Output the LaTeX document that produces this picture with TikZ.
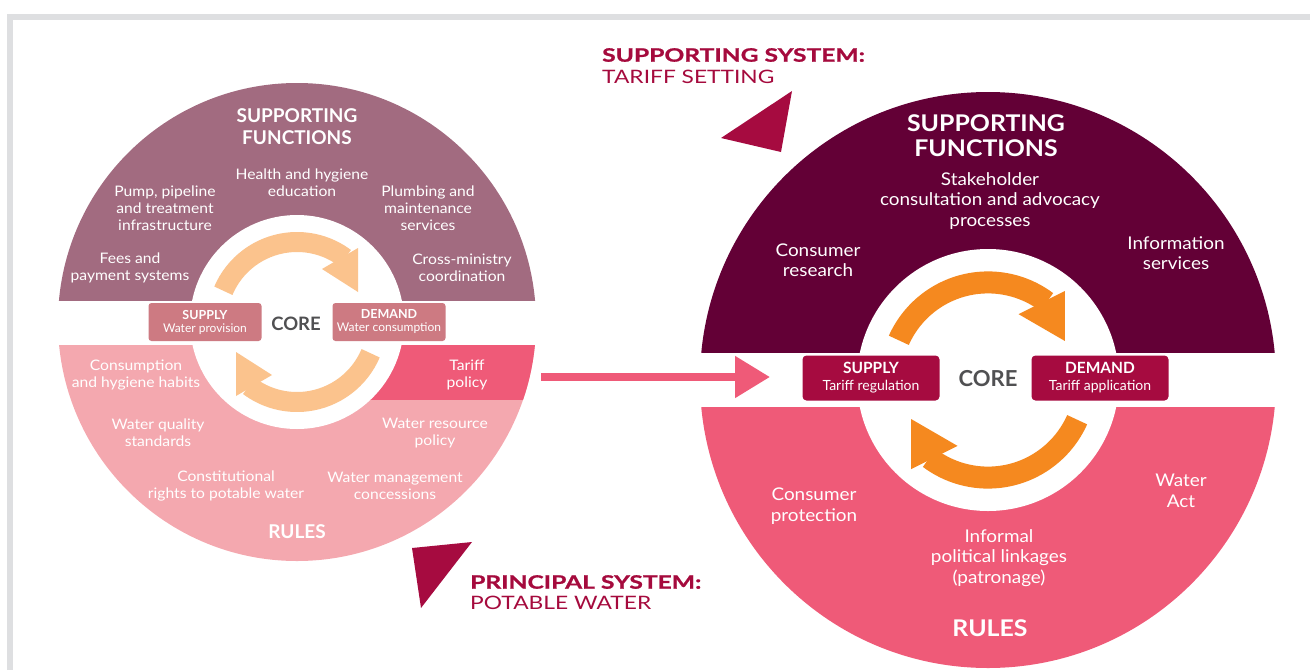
\documentclass[tikz,border=0pt]{standalone}
\usepackage{fontspec}
\setmainfont{Lato}
\newfontfamily\bodyfont{Lato}[FakeStretch=1.08]
\newfontfamily\rheadfont{Lato}[FakeStretch=1.08]
\newfontfamily\titleboldfont{Lato}[FakeStretch=1.33,BoldFeatures={FakeBold=1}]
\newfontfamily\titleregfont{Lato}[FakeStretch=1.23]
\usetikzlibrary{arrows.meta}
\definecolor{mauve}{HTML}{A26B80}
\definecolor{lightpink}{HTML}{F4A8AF}
\definecolor{rosered}{HTML}{EF5A78}
\definecolor{plum}{HTML}{630036}
\definecolor{crimson}{HTML}{A60B40}
\definecolor{boxrose}{HTML}{CD7A82}
\definecolor{peach}{HTML}{FBC38D}
\definecolor{orangeA}{HTML}{F5891F}
\definecolor{coregray}{HTML}{505052}
\definecolor{framegray}{HTML}{DEDFE1}
\definecolor{titlered}{HTML}{A50A3D}
\begin{document}
\begin{tikzpicture}[x=1pt,y=-1pt,
  lbl/.style={text=white,align=center,inner sep=0pt},
  lbody/.style={lbl,font=\bodyfont\fontsize{14.5}{17}\selectfont},
  rbody/.style={lbl,font=\bodyfont\fontsize{17.5}{20.5}\selectfont},
  lhead/.style={lbl,font=\fontsize{19}{22}\selectfont\bfseries},
  rhead/.style={lbl,font=\rheadfont\fontsize{23}{25}\selectfont\bfseries},
  lbox/.style={fill=boxrose,rounded corners=3pt,minimum width=113pt,minimum height=38pt,inner sep=0pt,text=white,align=center,font=\fontsize{12}{13}\selectfont},
  rbox/.style={fill=crimson,rounded corners=4pt,minimum width=137pt,minimum height=45pt,inner sep=0pt,text=white,align=center,font=\fontsize{14}{17}\selectfont},
  coretext/.style={text=coregray,inner sep=0pt,font=\bfseries},
  titleb/.style={text=titlered,anchor=west,inner sep=0pt,font=\titleboldfont\fontsize{18.5}{24}\selectfont\bfseries},
  titler/.style={text=titlered,anchor=west,inner sep=0pt,font=\titleregfont\fontsize{18.5}{24}\selectfont}
]
\useasboundingbox (0,0) rectangle (1310,670);
% frame
\fill[framegray] (7,14) rectangle (1310,20);
\fill[framegray] (7,14) rectangle (13,670);

% ---------- left circle ----------
\begin{scope}
  \clip (0,0) rectangle (600,300);
  \fill[mauve] (297,322) circle (239);
\end{scope}
\begin{scope}
  \clip (0,345) rectangle (600,670);
  \fill[lightpink] (297,322) circle (239);
  \clip (297,322) circle (239);
  \fill[rosered] (340,345) rectangle (600,400);
\end{scope}
\fill[white] (297,322) circle (107);
\begin{scope}[shift={(297,322)}]
  \foreach \r in {0,180}{
    \begin{scope}[rotate=\r]
      \draw[peach,line width=20pt] (-157:80) arc[start angle=-157,end angle=-53,radius=80];
      \fill[peach] (61,-74) -- (61,-30) -- (25,-53) -- cycle;
    \end{scope}}
\end{scope}

% ---------- right circle ----------
\begin{scope}
  \clip (600,0) rectangle (1310,352);
  \fill[plum] (988,380) circle (288);
\end{scope}
\begin{scope}
  \clip (600,407) rectangle (1310,670);
  \fill[rosered] (988,380) circle (288);
\end{scope}
\fill[white] (988,380) circle (131);
\begin{scope}[shift={(988,380)},scale=1.22]
  \foreach \r in {0,180}{
    \begin{scope}[rotate=\r]
      \draw[orangeA,line width=22pt] (-156:80) arc[start angle=-156,end angle=-53,radius=80];
      \fill[orangeA] (63,-73) -- (63,-32) -- (25,-54) -- cycle;
    \end{scope}}
\end{scope}

% triangles
\fill[crimson] (792,91) -- (721,138) -- (781,152) -- cycle;
\fill[crimson] (412,548) -- (472,542) -- (421,608) -- cycle;

% titles
\node[titleb] (t1) at (602,55) {SUPPORTING SYSTEM:};
\node[titler] (t2) at (602,77) {TARIFF SETTING};
\node[titleb] (t3) at (470,582) {PRINCIPAL SYSTEM:};
\node[titler] (t4) at (470,603) {POTABLE WATER};

% left texts
\node[lhead] (lsf) at (297,127) {SUPPORTING\\FUNCTIONS};
\node[lbody] (lhh) at (302,183) {Health and hygiene\\education};
\node[lbody] (lpp) at (165,208) {Pump, pipeline\\and treatment\\infrastructure};
\node[lbody] (lpm) at (428,208) {Plumbing and\\maintenance\\services};
\node[lbody] (lfp) at (130,268) {Fees and\\payment systems};
\node[lbody] (lcm) at (462,268) {Cross-ministry\\coordination};
\node[lbox] (lsup) at (205,322) {{\fontsize{12.5}{13}\selectfont\bfseries SUPPLY}\\Water provision};
\node[lbox] (ldem) at (389,322) {{\fontsize{12.5}{13}\selectfont\bfseries DEMAND}\\Water consumption};
\node[coretext,font=\fontsize{18.5}{20}\selectfont\bfseries] (lcore) at (296,324) {CORE};
\node[lbody] (lch) at (136,375) {Consumption\\and hygiene habits};
\node[lbody] (ltp) at (467,375) {Tariff\\policy};
\node[lbody] (lwq) at (158,433) {Water quality\\standards};
\node[lbody] (lwr) at (435,433) {Water resource\\policy};
\node[lbody] (lcr) at (226,486) {Constitutional\\rights to potable water};
\node[lbody] (lwm) at (395,486) {Water management\\concessions};
\node[lhead] (lrules) at (297,532) {RULES};

% right texts
\node[rhead] (rsf) at (986,136) {SUPPORTING\\FUNCTIONS};
\node[rbody] (rsc) at (990,201) {Stakeholder\\consultation and advocacy\\processes};
\node[rbody] (rcr) at (818,260) {Consumer\\research};
\node[rbody] (ris) at (1176,253) {Information\\services};
\node[rbox] (rsup) at (871,378) {{\fontsize{15.5}{17}\selectfont\bfseries SUPPLY}\\Tariff regulation};
\node[rbox] (rdem) at (1100,378) {{\fontsize{15.5}{17}\selectfont\bfseries DEMAND}\\Tariff application};
\node[coretext,font=\fontsize{22}{24}\selectfont\bfseries] (rcore) at (988,379) {CORE};
\node[rbody] (rcp) at (814,506) {Consumer\\protection};
\node[rbody] (rwa) at (1181,491) {Water\\Act};
\node[rbody] (rip) at (999,558) {Informal\\political linkages\\(patronage)};
\node[rhead] (rrules) at (990,628) {RULES};

% connector between systems
\coordinate (fromL) at (541,377);
\coordinate (toR) at (770,377);
\draw[rosered,line width=8pt,-{Triangle[length=35pt 0 0,width=40pt 0 0]}] (fromL) -- (toR);
\end{tikzpicture}
\end{document}
